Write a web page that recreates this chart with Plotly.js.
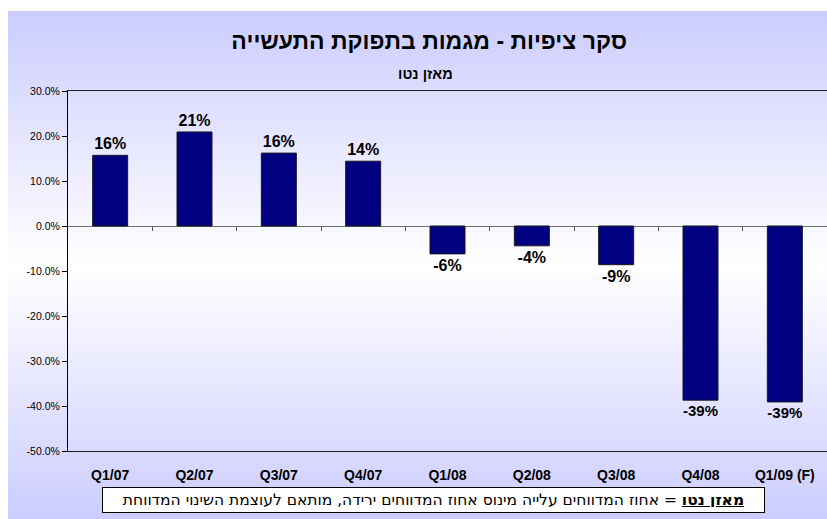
<!DOCTYPE html>
<html>
<head>
<meta charset="utf-8">
<script src="https://cdn.plot.ly/plotly-3.0.1.min.js"></script>
<style>
  html, body { margin: 0; padding: 0; background: #ffffff; }
  #wrap { position: relative; width: 827px; height: 519px; overflow: hidden; }
  #bg { position: absolute; left: 8px; top: 11px; width: 819px; height: 508px;
        background: linear-gradient(to bottom, #ccccff 0%, #ffffff 50%, #ccccff 100%); }
  #chart { position: absolute; left: 0; top: 0; width: 827px; height: 519px; }
</style>
</head>
<body>
<div id="wrap"><div id="bg"></div><div id="chart"></div></div>
<script>
const categories = ["Q1/07", "Q2/07", "Q3/07", "Q4/07", "Q1/08", "Q2/08", "Q3/08", "Q4/08", "Q1/09 (F)"];
const netBalance = [15.7, 20.9, 16.2, 14.4, -6.2, -4.4, -8.6, -38.7, -39.1];
const yTickValues = [-50, -40, -30, -20, -10, 0, 10, 20, 30];
const yTickLabels = ["-50.0%", "-40.0%", "-30.0%", "-20.0%", "-10.0%", "0.0%", "10.0%", "20.0%", "30.0%"];
const chartTitle = "סקר ציפיות - מגמות בתפוקת התעשייה";
const subTitle = "מאזן נטו";
const footTerm = "מאזן נטו";
const footText = " = אחוז המדווחים עלייה מינוס אחוז המדווחים ירידה, מותאם לעוצמת השינוי המדווחת";

const FONT = "Liberation Sans, Arial, sans-serif";
const HEB = "DejaVu Sans, Liberation Sans, sans-serif";
const boundaries = categories.slice(0, -1).map((c, i) => i + 0.5);

const trace = {
  type: "bar",
  x: categories.map((c, i) => i),
  y: netBalance,
  width: 0.415,
  marker: { color: "#000080", line: { color: "#1a1a1a", width: 1 } },
  texttemplate: "%{y:.0f}%",
  textposition: "outside",
  textfont: { family: FONT, size: 16, color: "#000000", weight: "bold" },
  cliponaxis: false,
  hoverinfo: "skip"
};

const layout = {
  width: 827, height: 519,
  margin: { l: 68, r: 0, t: 91, b: 68 },
  paper_bgcolor: "rgba(0,0,0,0)",
  plot_bgcolor: "rgba(0,0,0,0)",
  showlegend: false,
  title: {
    text: "<b>" + chartTitle + "</b>",
    font: { family: FONT, size: 23, color: "#000000" },
    xref: "container", x: 0.519, xanchor: "center",
    yref: "container", y: 1 - 41 / 519, yanchor: "middle"
  },
  xaxis: {
    type: "linear",
    range: [-0.5, 8.5],
    tickvals: categories.map((c, i) => i),
    ticktext: categories,
    ticks: "",
    showgrid: false,
    zeroline: false,
    showline: true, mirror: true, linecolor: "#222222", linewidth: 1,
    tickfont: { family: FONT, size: 14, color: "#000000", weight: "bold" },
    ticklabelstandoff: 11,
    fixedrange: true
  },
  xaxis2: {
    type: "linear",
    overlaying: "x",
    matches: "x",
    anchor: "free",
    position: 0.625,
    side: "bottom",
    range: [-0.5, 8.5],
    tickvals: boundaries,
    showticklabels: false,
    ticks: "outside", ticklen: 4, tickcolor: "#555555", tickwidth: 1,
    showgrid: false, zeroline: false, showline: false
  },
  yaxis: {
    range: [-50, 30],
    tickvals: yTickValues,
    ticktext: yTickLabels,
    ticks: "outside", ticklen: 5, tickcolor: "#000000",
    showgrid: false,
    zeroline: true, zerolinecolor: "#6e6e6e", zerolinewidth: 1,
    showline: true, linecolor: "#000000", linewidth: 1,
    tickfont: { family: FONT, size: 10.5, color: "#000000" },
    fixedrange: true
  },
  annotations: [
    {
      text: "<b>" + subTitle + "</b>",
      xref: "paper", yref: "paper",
      x: (425 - 68) / 759, y: (451 - 74) / 360,
      xanchor: "center", yanchor: "middle",
      showarrow: false,
      font: { family: FONT, size: 14.5, color: "#000000" }
    },
    {
      text: "<b><u>" + footTerm + "</u></b>" + footText,
      xref: "paper", yref: "paper",
      x: (433.5 - 68) / 759, y: (451 - 500) / 360,
      xanchor: "center", yanchor: "middle",
      width: 651, height: 14, align: "center",
      showarrow: false,
      bgcolor: "#ffffff", bordercolor: "#000000", borderwidth: 1, borderpad: 5,
      font: { family: HEB, size: 15.5, color: "#000000" }
    }
  ]
};

const traceAxis2 = { type: "scatter", x: [0], y: [0], xaxis: "x2", yaxis: "y", mode: "markers",
  marker: { opacity: 0 }, hoverinfo: "skip", showlegend: false };

Plotly.newPlot("chart", [trace, traceAxis2], layout, { staticPlot: true, displayModeBar: false });
</script>
</body>
</html>
